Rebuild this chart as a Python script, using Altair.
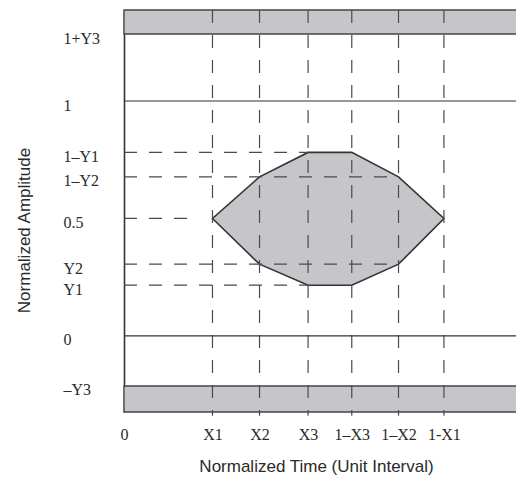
import altair as alt
import pandas as pd

# ---- data ----
x_names = ["0", "X1", "X2", "X3", "1–X3", "1–X2", "1-X1"]
x_vals = [0.0, 0.2167, 0.3319, 0.4508, 0.5578, 0.6723, 0.7835]
y_names = ["1+Y3", "1", "1–Y1", "1–Y2", "0.5", "Y2", "Y1", "0", "–Y3"]
y_vals = [1.2856, 1.0, 0.7813, 0.6773, 0.5, 0.3052, 0.2157, 0.0, -0.2136]

X_MAX = 0.96
Y_MIN, Y_MAX = -0.3244, 1.3879

# eye mask polygon (upper / lower boundary)
mask_x = [0.2167, 0.3319, 0.4508, 0.5578, 0.6723, 0.7835]
mask_upper = [0.5, 0.6773, 0.7813, 0.7813, 0.6773, 0.5]
mask_lower = [0.5, 0.3052, 0.2157, 0.2157, 0.3052, 0.5]

# forbidden bands
band_lo = [1.2856, Y_MIN]
band_hi = [Y_MAX, -0.2136]

# horizontal dashed guides: level and end
hdash_y = [0.7813, 0.6773, 0.5, 0.3052, 0.2157]
hdash_end = [0.4508, 0.6723, 0.157, 0.6723, 0.4508]

# vertical dashed guides
vdash_x = [0.2167, 0.3319, 0.4508, 0.5578, 0.6723, 0.7835]

# solid reference lines
solid_y = [1.0, 0.0]


def label_expr(vals, names):
    expr = ""
    for v, n in zip(vals, names):
        expr += f"abs(datum.value - ({v})) < 0.0005 ? '{n}' : "
    return expr + "''"


xs = alt.Scale(domain=[0, X_MAX], nice=False, zero=False)
ys = alt.Scale(domain=[Y_MIN, Y_MAX], nice=False, zero=False)

xaxis = alt.Axis(
    values=x_vals, labelExpr=label_expr(x_vals, x_names),
    title="Normalized Time (Unit Interval)",
    domain=False, ticks=False, grid=False,
    labelFont="Liberation Serif", labelFontSize=16, labelColor="#2a2a2a",
    labelPadding=22, labelBaseline="middle", labelFlush=False, labelOverlap=False,
    titleFont="Liberation Sans", titleFontSize=17, titleFontWeight="normal",
    titleColor="#2a2a2a", titleX=192, titleY=54, titleAlign="center",
    titleBaseline="middle",
)
yaxis = alt.Axis(
    values=y_vals, labelExpr=label_expr(y_vals, y_names),
    title="Normalized Amplitude",
    domain=True, domainColor="#333", domainWidth=1.6, ticks=False, grid=False,
    labelFont="Liberation Serif", labelFontSize=16, labelColor="#2a2a2a",
    labelAlign="left", labelPadding=61, labelOffset=4, labelBaseline="middle",
    labelOverlap=False, labelFlush=False,
    titleFont="Liberation Sans", titleFontSize=17, titleFontWeight="normal",
    titleColor="#2a2a2a", titleX=-100, titleY=220, titleAngle=270,
    titleAlign="center", titleBaseline="middle",
)

X = alt.X("x:Q", scale=xs, axis=xaxis)
Y = alt.Y("y:Q", scale=ys, axis=yaxis)

bands = pd.DataFrame({"x": [0.0] * 2, "x2": [1.0] * 2, "y": band_lo, "y2": band_hi})
mask = pd.DataFrame({"x": mask_x, "y": mask_lower, "y2": mask_upper})
vd = pd.DataFrame({"x": vdash_x, "y": [Y_MAX] * len(vdash_x), "y2": [-0.34] * len(vdash_x)})
hd = pd.DataFrame({"x": [0.0] * len(hdash_y), "x2": hdash_end, "y": hdash_y})
sd = pd.DataFrame({"x": [0.0] * 2, "x2": [1.0] * 2, "y": solid_y})

fill = "#c6c6ca"

band_layer = alt.Chart(bands).mark_rect(
    fill=fill, stroke="#444", strokeWidth=1.3
).encode(x=X, x2="x2:Q", y=Y, y2="y2:Q")

mask_layer = alt.Chart(mask).mark_area(
    fill=fill, stroke="#333", strokeWidth=1.6, opacity=1
).encode(x=X, y=Y, y2="y2:Q")

vdash_layer = alt.Chart(vd).mark_rule(
    color="#4a4a4a", strokeWidth=1.2, strokeDash=[13, 12]
).encode(x=X, y=Y, y2="y2:Q")

hdash_layer = alt.Chart(hd).mark_rule(
    color="#4a4a4a", strokeWidth=1.2, strokeDash=[13, 12]
).encode(x=X, x2="x2:Q", y=Y)

solid_layer = alt.Chart(sd).mark_rule(
    color="#333", strokeWidth=1.1
).encode(x=X, x2="x2:Q", y=Y)

chart = alt.layer(
    band_layer, mask_layer, vdash_layer, hdash_layer, solid_layer
).properties(
    width=392, height=402,
    autosize=alt.AutoSizeParams(type="none"),
    padding={"left": 116, "top": 2, "right": 0, "bottom": 65},
    background="white",
).configure_view(stroke=None)

chart.save("out.html", embed_options={"renderer": "svg", "actions": False})
